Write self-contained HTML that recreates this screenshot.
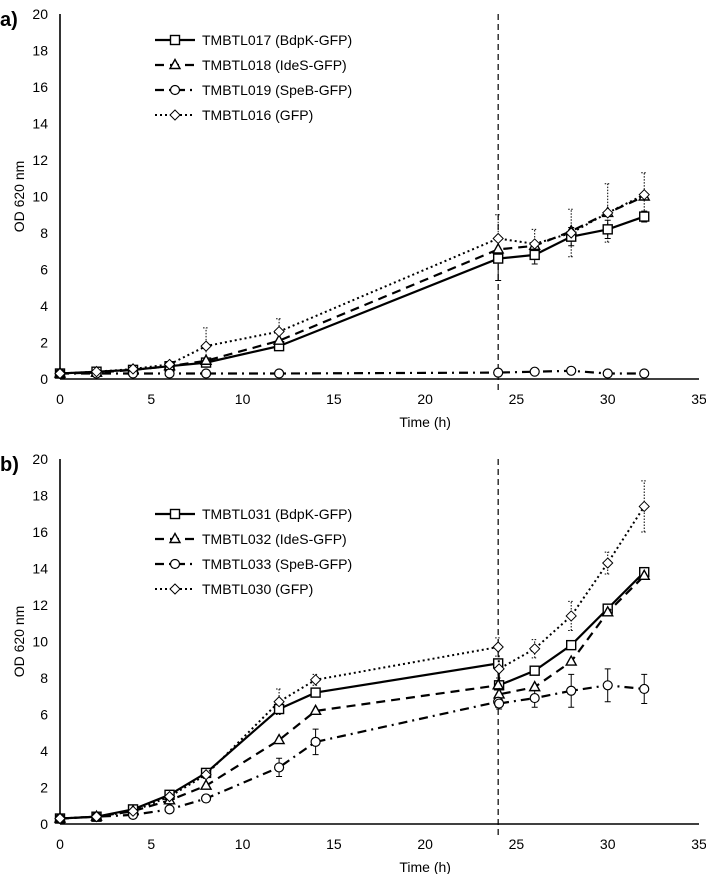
<!DOCTYPE html>
<html><head><meta charset="utf-8">
<style>
body{margin:0;background:#fff;}
svg{display:block;font-family:"Liberation Sans",sans-serif;}
</style></head>
<body>
<svg id="chart" width="706" height="874" viewBox="0 0 706 874" xmlns="http://www.w3.org/2000/svg"></svg>
<script>
const timesA = [0,2,4,6,8,12,24,26,28,30,32];
const namesA = ["TMBTL017 (BdpK-GFP)","TMBTL018 (IdeS-GFP)","TMBTL019 (SpeB-GFP)","TMBTL016 (GFP)"];
const a017 = [0.3,0.4,0.5,0.7,0.9,1.8,6.6,6.8,7.8,8.2,8.9];
const a018 = [0.3,0.35,0.5,0.7,1.0,2.1,7.1,7.3,8.1,9.1,10.0];
const a019 = [0.3,0.3,0.3,0.3,0.3,0.3,0.35,0.4,0.45,0.3,0.3];
const a016 = [0.3,0.4,0.55,0.8,1.8,2.6,7.7,7.4,8.0,9.1,10.1];
const errA016 = [0,0,0.1,0.1,1.0,0.7,1.3,0.8,1.3,1.6,1.2];
const errA017 = [0,0,0.1,0.1,0.2,0.2,1.2,0.5,0.5,0.5,0.3];

const timesB = [0,2,4,6,8,12,14,24,24.05,26,28,30,32];
const namesB = ["TMBTL031 (BdpK-GFP)","TMBTL032 (IdeS-GFP)","TMBTL033 (SpeB-GFP)","TMBTL030 (GFP)"];
const b031 = [0.3,0.4,0.8,1.6,2.8,6.3,7.2,8.8,7.6,8.4,9.8,11.8,13.8];
const b032 = [0.3,0.4,0.7,1.3,2.1,4.6,6.2,7.6,7.1,7.5,8.9,11.6,13.6];
const b033 = [0.3,0.4,0.5,0.8,1.4,3.1,4.5,6.7,6.6,6.9,7.3,7.6,7.4];
const b030 = [0.3,0.4,0.7,1.5,2.7,6.7,7.9,9.7,8.5,9.6,11.4,14.3,17.4];
const errB030 = [0,0,0.1,0.1,0.2,0.7,0.3,0.5,0.5,0.5,0.8,0.6,1.4];
const errB033 = [0,0,0.1,0.1,0.2,0.5,0.7,0.3,0.3,0.5,0.9,0.9,0.8];

const xTicks = [0,5,10,15,20,25,30,35];
const yTicks = [0,2,4,6,8,10,12,14,16,18,20];

const NS = "http://www.w3.org/2000/svg";
const svg = document.getElementById("chart");
function el(tag, attrs, parent){
  const e = document.createElementNS(NS, tag);
  for (const k in attrs) e.setAttribute(k, attrs[k]);
  (parent||svg).appendChild(e);
  return e;
}
const styles = [
  {dash:"", marker:"square"},
  {dash:"9,6", marker:"triangle"},
  {dash:"9,5,2,5", marker:"circle"},
  {dash:"2,3", marker:"diamond"}
];
function marker(g, type, x, y){
  let m;
  if (type==="square") m = el("rect",{x:x-4.5,y:y-4.5,width:9,height:9,fill:"#fff",stroke:"#000","stroke-width":1.4},g);
  else if (type==="triangle") m = el("polygon",{points:`${x},${y-5.5} ${x+5},${y+3.5} ${x-5},${y+3.5}`,fill:"#fff",stroke:"#000","stroke-width":1.4},g);
  else if (type==="circle") m = el("circle",{cx:x,cy:y,r:4.5,fill:"#fff",stroke:"#000","stroke-width":1.2},g);
  else m = el("polygon",{points:`${x},${y-5} ${x+5},${y} ${x},${y+5} ${x-5},${y}`,fill:"#fff",stroke:"#000","stroke-width":1},g);
  
  
}
function panel(cfg){
  const x0=60, x1=699, top=cfg.bottom-365;
  const sx = v => x0 + v/35*(x1-x0);
  const sy = v => cfg.bottom - v/20*365;
  const g = el("g",{});
  
  
  const lab = el("text",{x:0,y:top+12,"font-size":20,"font-weight":"bold"},g);
  lab.textContent = cfg.label;
  
  
  const ya = el("line",{x1:x0,y1:top,x2:x0,y2:cfg.bottom,stroke:"#000","stroke-width":1.6},g);
  
  
  const xa = el("line",{x1:x0,y1:cfg.bottom,x2:x1,y2:cfg.bottom,stroke:"#000","stroke-width":1.6},g);
  
  
  yTicks.forEach(t=>{
    const tx = el("text",{x:x0-12,y:sy(t)+5,"font-size":14,"text-anchor":"end"},g);
    tx.textContent = t;
    
    
  });
  xTicks.forEach(t=>{
    const tx = el("text",{x:sx(t),y:cfg.bottom+25,"font-size":14,"text-anchor":"middle"},g);
    tx.textContent = t;
    
    
  });
  const xt = el("text",{x:sx(20),y:cfg.bottom+48,"font-size":14,"text-anchor":"middle"},g);
  xt.textContent = "Time (h)";
  
  
  const yt = el("text",{x:0,y:0,"font-size":14,"text-anchor":"middle",transform:`translate(24,${sy(10)}) rotate(-90)`},g);
  yt.textContent = "OD 620 nm";
  
  
  const vl = el("line",{x1:sx(24),y1:top,x2:sx(24),y2:cfg.bottom+12,stroke:"#000","stroke-width":1.2,"stroke-dasharray":"6,4"},g);
  
  
  cfg.errs.forEach(([si,err])=>{
    cfg.series[si].forEach((v,i)=>{
      if(!err[i]) return;
      const x=sx(cfg.times[i]);
      const eb = el("path",{d:`M${x},${sy(v-err[i])}V${sy(v+err[i])}M${x-3},${sy(v-err[i])}h6M${x-3},${sy(v+err[i])}h6`,stroke:"#000","stroke-width":1,"stroke-dasharray":si===3?"1.5,1.5":"",fill:"none"},g);
      
      
    });
  });
  cfg.series.forEach((vals,si)=>{
    const st = styles[si];
    const d = vals.map((v,i)=>(i?"L":"M")+sx(cfg.times[i]).toFixed(1)+","+sy(v).toFixed(1)).join("");
    const p = el("path",{d,fill:"none",stroke:"#000","stroke-width":si===3?2:2.2,"stroke-dasharray":st.dash},g);
    
    
    vals.forEach((v,i)=>marker(g,st.marker,sx(cfg.times[i]),sy(v)));
    const ly = cfg.legendY + si*25;
    const lg = el("g",{},g);
    
    
    el("line",{x1:155,y1:ly,x2:195,y2:ly,stroke:"#000","stroke-width":si===3?2:2.2,"stroke-dasharray":st.dash},lg);
    marker(lg,st.marker,175,ly);
    const lt = el("text",{x:202,y:ly+5,"font-size":14},lg);
    lt.textContent = cfg.names[si];
    
    
  });
}
panel({name:"panel-a",label:"a)",bottom:379,times:timesA,series:[a017,a018,a019,a016],names:namesA,legendY:40,errs:[[0,errA017],[3,errA016]]});
panel({name:"panel-b",label:"b)",bottom:824,times:timesB,series:[b031,b032,b033,b030],names:namesB,legendY:514,errs:[[2,errB033],[3,errB030]]});
</script>
</body></html>
